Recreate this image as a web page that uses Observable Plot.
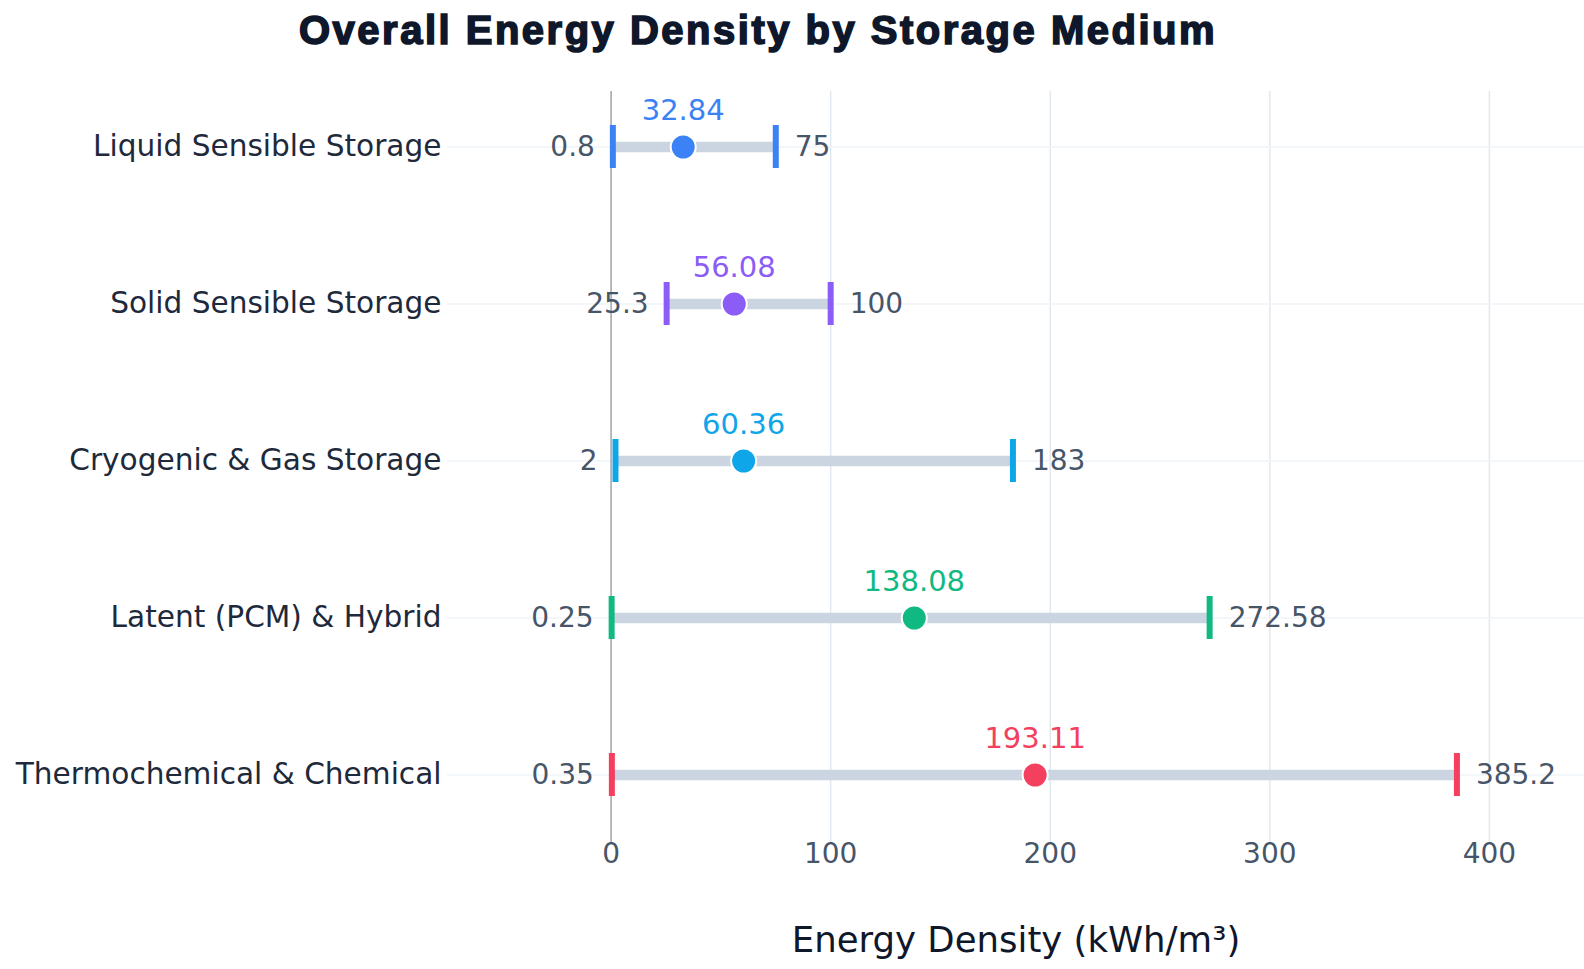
<!DOCTYPE html>
<html>
<head>
<meta charset="utf-8">
<script src="https://cdn.jsdelivr.net/npm/d3@7"></script>
<script src="https://cdn.jsdelivr.net/npm/@observablehq/plot@0.6"></script>
<style>
  html, body { margin: 0; padding: 0; background: #fff; }
  #title { height: 62px; line-height: 61px; text-align: center; font-family: "Liberation Sans", Arial, sans-serif; font-weight: 900; font-size: 40px; color: #0f172a; letter-spacing: 2.5px; -webkit-text-stroke: 1.6px #0f172a; width: 1516px; }
  #chart svg { display: block; }
</style>
</head>
<body>
<div id="title">Overall Energy Density by Storage Medium</div>
<div id="chart"></div>
<script>
const categories = ["Liquid Sensible Storage", "Solid Sensible Storage", "Cryogenic & Gas Storage", "Latent (PCM) & Hybrid", "Thermochemical & Chemical"];
const minValues = [0.8, 25.3, 2, 0.25, 0.35];
const maxValues = [75, 100, 183, 272.58, 385.2];
const meanValues = [32.84, 56.08, 60.36, 138.08, 193.11];
const colors = ["#3b82f6", "#8b5cf6", "#0ea5e9", "#10b981", "#f43f5e"];
const xTicks = [0, 100, 200, 300, 400];

const data = categories.map((c, i) => ({cat: c, min: minValues[i], max: maxValues[i], mean: meanValues[i], color: colors[i]}));
const font = "DejaVu Sans, Verdana, sans-serif";

const chart = Plot.plot({
  width: 1584,
  height: 907,
  marginLeft: 447,
  marginRight: 0,
  marginTop: 29,
  marginBottom: 126,
  style: {fontFamily: font, background: "#fff", overflow: "visible"},
  x: {domain: [-74.5, 443.3], ticks: xTicks, label: null},
  y: {type: "band", domain: categories, range: [-53, 850.7], padding: 0.723, align: 0.5, label: null},
  marks: [
    Plot.gridX(xTicks.filter(d => d !== 0), {stroke: "#e2e8f0", strokeOpacity: 1, strokeWidth: 1.5}),
    Plot.gridY(categories, {stroke: "#f1f5f9", strokeOpacity: 1, strokeWidth: 1.5}),
    Plot.ruleX([0], {stroke: "#a3a3a3", strokeWidth: 1.5}),
    Plot.axisX({ticks: xTicks, tickSize: 0, tickPadding: 0, fontSize: 28, color: "#475569", label: null, tickFormat: d => String(d)}),
    Plot.axisY({tickSize: 0, tickPadding: 6, fontSize: 29.6, color: "#1e293b", label: null}),
    Plot.ruleY(data, {y: "cat", x1: "min", x2: "max", stroke: "#cbd5e1", strokeWidth: 10.5}),
    Plot.tickX(data, {x: "min", y: "cat", stroke: "color", strokeWidth: 6}),
    Plot.tickX(data, {x: "max", y: "cat", stroke: "color", strokeWidth: 6}),
    Plot.dot(data, {x: "mean", y: "cat", r: 12.5, fill: "color", stroke: "white", strokeWidth: 2}),
    Plot.text(data, {x: "mean", y: "cat", text: d => String(d.mean), fill: "color", fontSize: 29, dy: -36}),
    Plot.text(data, {x: "min", y: "cat", text: d => String(d.min), fill: "#475569", fontSize: 28, textAnchor: "end", dx: -18}),
    Plot.text(data, {x: "max", y: "cat", text: d => String(d.max), fill: "#475569", fontSize: 28, textAnchor: "start", dx: 19}),
    Plot.text(["Energy Density (kWh/m³)"], {frameAnchor: "bottom", text: d => d, dy: 97, fontSize: 35.5, fill: "#0f172a", lineAnchor: "middle"})
  ]
});
document.getElementById("chart").appendChild(chart);
</script>
</body>
</html>
